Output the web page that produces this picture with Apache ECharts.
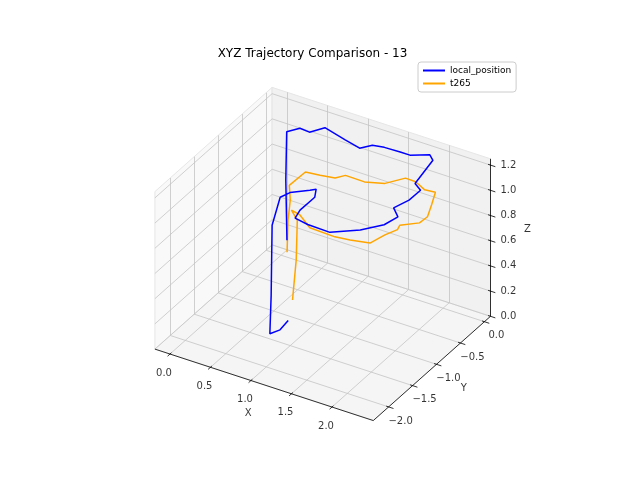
<!DOCTYPE html>
<html><head><meta charset="utf-8">
<script src="https://cdn.jsdelivr.net/npm/echarts@6/dist/echarts.min.js"></script>
<style>html,body{margin:0;padding:0;background:#fff}#c{width:625px;height:500px}</style>
</head><body><div id="c"></div>
<script>
// ---- data (x, y, z) ----
const blueX = [0.22,0.20,0.14,0.25,0.35,0.47,0.75,0.94,1.05,1.18,1.37,1.49,1.73,1.75,1.76,1.84,1.81,1.75,1.88,1.81,1.61,1.36,1.08,0.90,0.89,0.93,0.90,0.84,0.66,0.58,0.51,0.51,0.76,0.85,0.88];
const blueY = [-0.25,-0.24,-0.12,-0.03,0.00,0.12,0.07,0.05,0.13,0.16,0.17,0.17,0.18,0.21,-0.18,-0.20,-0.39,-0.61,-0.74,-0.91,-1.07,-1.28,-1.27,-1.23,-1.11,-0.87,-0.79,-0.82,-0.93,-1.00,-1.05,-1.07,-1.52,-1.46,-1.34];
const blueZ = [0.25,0.72,1.05,1.07,1.05,1.07,1.05,1.03,1.05,1.05,1.05,1.05,1.10,1.05,1.00,0.97,0.95,0.95,0.95,0.93,0.90,0.90,0.90,0.90,0.92,0.95,0.98,0.97,0.95,0.92,0.70,0.15,0.05,0.08,0.12];
const orangeX = [0.60,0.60,0.61,0.58,0.59,0.73,0.88,0.96,1.16,1.36,1.53,1.62,1.72,1.84,1.87,1.89,1.88,1.79,1.75,1.69,1.60,1.39,1.22,0.94,0.78,0.66,0.75,0.76,0.75];
const orangeY = [-0.89,-0.87,-0.84,-0.81,-0.49,-0.42,-0.36,-0.28,-0.22,-0.13,0.01,0.07,0.09,0.11,-0.02,-0.14,-0.29,-0.55,-0.53,-0.69,-0.85,-0.91,-0.94,-0.99,-0.93,-0.90,-0.93,-0.97,-1.03];
const orangeZ = [0.45,0.70,0.85,0.95,0.95,0.93,0.92,0.93,0.90,0.90,0.93,0.90,0.85,0.85,0.80,0.75,0.75,0.80,0.75,0.75,0.72,0.72,0.72,0.75,0.80,0.80,0.75,0.45,0.15];
const xTicks = [0.0,0.5,1.0,1.5,2.0];
const yTicks = [-2.0,-1.5,-1.0,-0.5,0.0];
const zTicks = [0.0,0.2,0.4,0.6,0.8,1.0,1.2];
const xLim = [-0.186,2.51], yLim = [-2.32,0.127], zLim = [0,1.25];
const seriesNames = ['local_position','t265'];

// ---- view projection (elev 30, azim -60 approximated) ----
function proj(x,y,z){ return [281.1+81*x+47.9*y, 255.2+26.5*x-42.6*y-126*z]; }
const [x0,x1]=xLim,[y0,y1]=yLim,[z0,z1]=zLim;

const panes = [
  [[x0,y0,z0],[x1,y0,z0],[x1,y1,z0],[x0,y1,z0]], // floor
  [[x0,y0,z0],[x0,y1,z0],[x0,y1,z1],[x0,y0,z1]], // left wall
  [[x0,y1,z0],[x1,y1,z0],[x1,y1,z1],[x0,y1,z1]]  // back wall
];
const paneColors = ['#f5f5f5','#f9f9f9','#f1f1f1'];

const gridSegs = [];
xTicks.forEach(t=>{gridSegs.push([[t,y0,z0],[t,y1,z0]]);gridSegs.push([[t,y1,z0],[t,y1,z1]]);});
yTicks.forEach(t=>{gridSegs.push([[x0,t,z0],[x1,t,z0]]);gridSegs.push([[x0,t,z0],[x0,t,z1]]);});
zTicks.forEach(t=>{gridSegs.push([[x0,y0,t],[x0,y1,t]]);gridSegs.push([[x0,y1,t],[x1,y1,t]]);});

const axisSegs = [[[x0,y0,z0],[x1,y0,z0]],[[x1,y0,z0],[x1,y1,z0]],[[x1,y1,z0],[x1,y1,z1]]];
xTicks.forEach(t=>axisSegs.push([[t,y0-0.05,z0],[t,y0+0.03,z0]]));
yTicks.forEach(t=>axisSegs.push([[x1-0.03,t,z0],[x1+0.06,t,z0]]));
zTicks.forEach(t=>axisSegs.push([[x1-0.03,y1,t],[x1+0.06,y1,t]]));

const toLines = segs => segs.map(s=>({coords:[proj(...s[0]),proj(...s[1])]}));
const fmt = v => (v<0?'\u2212':'')+Math.abs(v).toFixed(1);

function labelSeries(points, offset, align){
  return {type:'scatter',symbolSize:0,silent:true,z:5,
    data:points.map(p=>({value:p.pos,name:p.text})),
    label:{show:true,position:'inside',formatter:'{b}',offset:offset,color:'#000',
      fontFamily:'DejaVu Sans',fontSize:10,align:align||'center'}};
}

const chart = echarts.init(document.getElementById('c'));
chart.setOption({
  animation:false,
  title:{text:'XYZ Trajectory Comparison - 13',left:'center',top:43,
    textStyle:{fontFamily:'DejaVu Sans',fontSize:12,fontWeight:'normal',color:'#000'}},
  legend:{data:seriesNames,orient:'vertical',left:418,top:62,padding:[4,5],itemGap:4,
    itemWidth:22,itemHeight:2,icon:'rect',borderColor:'#ccc',borderWidth:1,borderRadius:3,
    backgroundColor:'#fff',textStyle:{fontFamily:'DejaVu Sans',fontSize:9,color:'#000'}},
  grid:{left:0,right:0,top:0,bottom:0},
  xAxis:{type:'value',min:0,max:625,show:false},
  yAxis:{type:'value',min:0,max:500,inverse:true,show:false},
  series:[
    {type:'custom',silent:true,z:1,data:panes.map((p,i)=>i),
      renderItem:(params,api)=>{const i=api.value(0);
        return {type:'polygon',shape:{points:panes[i].map(c=>api.coord(proj(...c)))},
          style:{fill:paneColors[i],stroke:'#e6e6e6',lineWidth:1}};}},
    {type:'lines',coordinateSystem:'cartesian2d',silent:true,z:2,data:toLines(gridSegs),
      lineStyle:{color:'#c4c4c4',width:0.8,opacity:1}},
    {type:'lines',coordinateSystem:'cartesian2d',silent:true,z:3,data:toLines(axisSegs),
      lineStyle:{color:'#000',width:0.8,opacity:1}},
    labelSeries(xTicks.map(t=>({pos:proj(t,y0,z0),text:fmt(t)})),[-6,19]),
    labelSeries(yTicks.map(t=>({pos:proj(x1,t,z0),text:fmt(t)})),[12,14]),
    labelSeries(zTicks.map(t=>({pos:proj(x1,y1,t),text:fmt(t)})),[10,0],'left'),
    labelSeries([{pos:proj((x0+x1)/2,y0,z0),text:'X'}],[-16,29]),
    labelSeries([{pos:proj(x1,(y0+y1)/2,z0),text:'Y'}],[32,20]),
    labelSeries([{pos:proj(x1,y1,(z0+z1)/2),text:'Z'}],[37,-8]),
    {name:seriesNames[0],type:'line',z:10,symbol:'none',color:'#0000ff',
      lineStyle:{width:1.5,color:'#0000ff'},
      data:blueX.map((x,i)=>proj(x,blueY[i],blueZ[i]))},
    {name:seriesNames[1],type:'line',z:9,symbol:'none',color:'#ffa500',
      lineStyle:{width:1.5,color:'#ffa500'},
      data:orangeX.map((x,i)=>proj(x,orangeY[i],orangeZ[i]))}
  ]
});
</script></body></html>
